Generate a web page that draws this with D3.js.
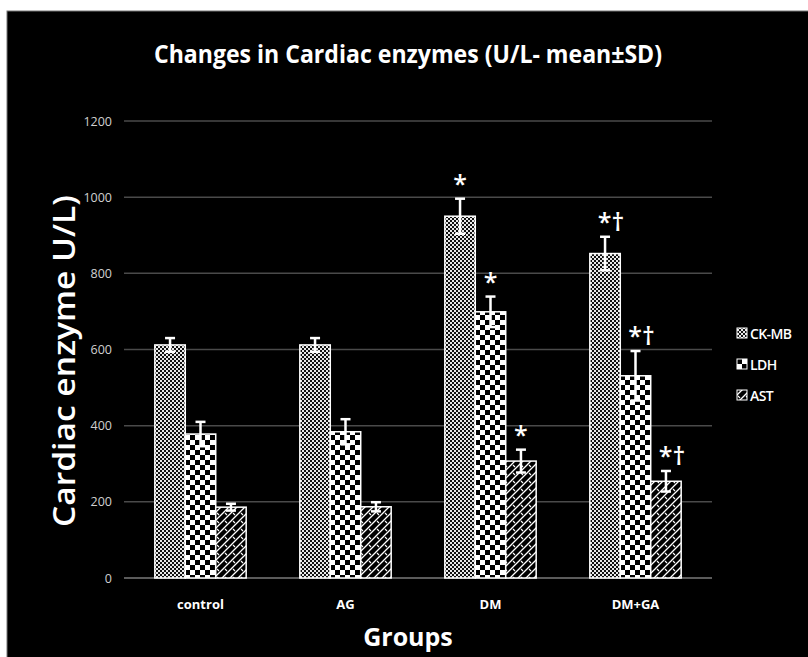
<!DOCTYPE html>
<html><head><meta charset="utf-8">
<script src="https://cdn.jsdelivr.net/npm/d3@7/dist/d3.min.js"></script>
<style>body{margin:0;background:#fff}svg{display:block}</style>
</head><body>
<svg id="c" width="808" height="657"></svg>
<script>
const groups = ["control", "AG", "DM", "DM+GA"];
const series = ["CK-MB", "LDH", "AST"];
const ckmb = [612, 612, 950, 852];
const ldh = [378, 384, 699, 531];
const ast = [186, 187, 307, 254];
const ckmbSD = [18, 18, 46, 44];
const ldhSD = [32, 33, 40, 65];
const astSD = [9, 12, 30, 27];
const ckmbSig = ["", "", "*", "*†"];
const ldhSig = ["", "", "*", "*†"];
const astSig = ["", "", "*", "*†"];
const yTicks = [0, 200, 400, 600, 800, 1000, 1200];

const values = [ckmb, ldh, ast];
const sds = [ckmbSD, ldhSD, astSD];
const sigs = [ckmbSig, ldhSig, astSig];

const svg = d3.select("#c");
const font = "'Open Sans', 'DejaVu Sans', sans-serif";

// background
svg.append("rect").attr("x", 7).attr("y", 11).attr("width", 802).attr("height", 647)
  .attr("fill", "#000").attr("stroke", "#777").attr("stroke-width", 1);

// patterns
const defs = svg.append("defs");
let p = defs.append("pattern").attr("id", "pCK").attr("patternUnits", "userSpaceOnUse")
  .attr("width", 4).attr("height", 4);
p.append("rect").attr("width", 4).attr("height", 4).attr("fill", "#111");
p.append("rect").attr("width", 2).attr("height", 2).attr("fill", "#e8e8e8");
p.append("rect").attr("x", 2).attr("y", 2).attr("width", 2).attr("height", 2).attr("fill", "#e8e8e8");
p = defs.append("pattern").attr("id", "pLDH").attr("patternUnits", "userSpaceOnUse")
  .attr("width", 10).attr("height", 10);
p.append("rect").attr("width", 10).attr("height", 10).attr("fill", "#000");
p.append("rect").attr("width", 5).attr("height", 5).attr("fill", "#fff");
p.append("rect").attr("x", 5).attr("y", 5).attr("width", 5).attr("height", 5).attr("fill", "#fff");
p = defs.append("pattern").attr("id", "pAST").attr("patternUnits", "userSpaceOnUse")
  .attr("width", 8).attr("height", 8);
p.append("rect").attr("width", 8).attr("height", 8).attr("fill", "#000");
p.append("path").attr("d", "M0,8 L8,0 M-2,2 L2,-2 M6,10 L10,6").attr("stroke", "#fff").attr("stroke-width", 1.3);
p.append("path").attr("d", "M1,1 L3,3").attr("stroke", "#fff").attr("stroke-width", 1.1);
const fills = ["url(#pCK)", "url(#pLDH)", "url(#pAST)"];

const y = d3.scaleLinear().domain([0, 1200]).range([578, 121]);
const x = d3.scaleBand().domain(groups).range([128, 708]).paddingInner(0.37).paddingOuter(0.185);
const xs = d3.scaleBand().domain(series).range([0, x.bandwidth()]);

const yAxis = d3.axisLeft(y).tickValues(yTicks).tickSize(0).tickPadding(0).tickFormat(d3.format("d"));
const ga = svg.append("g").attr("transform", "translate(112,0)").call(yAxis);
ga.select(".domain").remove();
ga.selectAll("text").attr("fill", "#d0d0d0").attr("font-size", 12.5).attr("font-family", font).attr("x", 0);

svg.append("g").selectAll("line").data(yTicks).join("line")
  .attr("x1", 124).attr("x2", 712).attr("y1", d => y(d)).attr("y2", d => y(d))
  .attr("stroke", d => d === 0 ? "#7a7a7a" : "#4a4a4a").attr("stroke-width", 1.5);

const data = [];
groups.forEach((g, i) => series.forEach((s, j) => data.push({g, s, j, v: values[j][i], sd: sds[j][i], sig: sigs[j][i]})));

svg.append("g").selectAll("rect").data(data).join("rect")
  .attr("x", d => x(d.g) + xs(d.s))
  .attr("y", d => y(d.v))
  .attr("width", xs.bandwidth())
  .attr("height", d => y(0) - y(d.v))
  .attr("fill", d => fills[d.j])
  .attr("stroke", "#fff").attr("stroke-width", 1.5);

const eb = svg.append("g").attr("stroke", "#fff").attr("stroke-width", 2.5);
data.forEach(d => {
  const cx = x(d.g) + xs(d.s) + xs.bandwidth() / 2;
  eb.append("line").attr("x1", cx).attr("x2", cx).attr("y1", y(d.v + d.sd)).attr("y2", y(d.v - d.sd));
  eb.append("line").attr("x1", cx - 5).attr("x2", cx + 5).attr("y1", y(d.v + d.sd)).attr("y2", y(d.v + d.sd));
  eb.append("line").attr("x1", cx - 5).attr("x2", cx + 5).attr("y1", y(d.v - d.sd)).attr("y2", y(d.v - d.sd));
});

svg.append("g").selectAll("text").data(data.filter(d => d.sig)).join("text")
  .attr("x", d => x(d.g) + xs(d.s) + xs.bandwidth() / 2 + (d.sig.length > 1 ? 6 : 0))
  .attr("y", d => y(d.v + d.sd) - 6)
  .attr("text-anchor", "middle")
  .attr("fill", "#fff").attr("font-size", 25).attr("font-weight", 600).attr("font-family", font)
  .text(d => d.sig);

svg.append("g").selectAll("text").data(groups).join("text")
  .attr("x", d => x(d) + x.bandwidth() / 2).attr("y", 609)
  .attr("text-anchor", "middle").attr("fill", "#fff").attr("font-size", 13).attr("font-weight", "bold")
  .attr("font-family", font).text(d => d);

svg.append("text").attr("x", 408).attr("y", 63).attr("text-anchor", "middle")
  .attr("fill", "#fff").attr("font-size", 25).attr("font-weight", "bold").attr("font-family", font)
  .attr("textLength", 508).attr("lengthAdjust", "spacingAndGlyphs")
  .text("Changes in Cardiac enzymes (U/L- mean±SD)");

svg.append("text").attr("transform", "translate(75,361) rotate(-90)").attr("text-anchor", "middle")
  .attr("fill", "#fff").attr("font-size", 31).attr("font-weight", 600).attr("font-family", font)
  .attr("textLength", 332).attr("lengthAdjust", "spacingAndGlyphs")
  .text("Cardiac enzyme U/L)");
svg.append("text").attr("x", 408).attr("y", 646).attr("text-anchor", "middle")
  .attr("fill", "#fff").attr("font-size", 25).attr("font-weight", "bold").attr("font-family", font)
  .text("Groups");

const lg = svg.append("g").selectAll("g").data(series).join("g")
  .attr("transform", (d, i) => `translate(737,${333 + i * 31})`);
lg.append("rect").attr("x", 0).attr("y", -5).attr("width", 10).attr("height", 10)
  .attr("fill", (d, i) => fills[i]).attr("stroke", "#fff").attr("stroke-width", 1);
lg.append("text").attr("x", 13).attr("y", 5.5).attr("fill", "#fff").attr("font-size", 14).attr("font-weight", 600)
  .attr("font-family", font).attr("letter-spacing", -0.6).text(d => d);
</script>
</body></html>
